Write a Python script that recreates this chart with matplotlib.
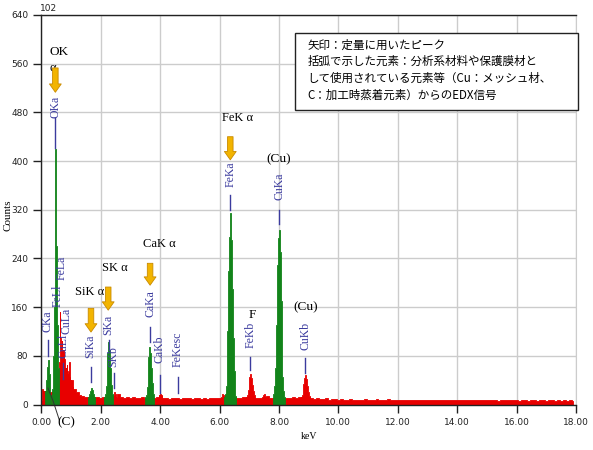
import numpy as np
import matplotlib
matplotlib.use("Agg")
import matplotlib.pyplot as plt
from matplotlib.patches import Rectangle

# ---- spectrum data (counts) ----
# coarse background, 0.1 keV channels from 0.0 keV
bg_step = 0.1
bg_counts = [
    5, 22, 18, 20, 15, 18, 30, 90, 60, 45,
    40, 25, 20, 16, 14, 12, 12, 11, 13, 12,
    11, 12, 12, 12, 13, 12, 18, 12, 11, 12,
    11, 12, 10, 11, 12, 11, 10, 11, 10, 12,
    16, 11, 10, 9, 10, 11, 10, 9, 10, 11,
    10, 9, 10, 11, 9, 10, 9, 10, 11, 10,
    11, 10, 12, 12, 14, 12, 11, 11, 12, 13,
    13, 12, 11, 10, 11, 13, 14, 11, 10, 11,
    12, 11, 10, 10, 11, 12, 11, 12, 13, 14,
    12, 10, 9, 10, 9, 9, 10, 8, 9, 9,
    8, 9, 8, 8, 9, 8, 7, 8, 8, 9,
    8, 7, 8, 9, 7, 8, 8, 9, 8, 7,
    8, 7, 8, 7, 7, 8, 7, 8, 7, 8,
    7, 8, 7, 7, 8, 7, 7, 8, 7, 7,
    7, 7, 8, 7, 7, 7, 8, 7, 7, 7,
    7, 8, 7, 7, 6, 7, 7, 8, 7, 7,
    7, 6, 7, 7, 6, 7, 7, 6, 7, 7,
    6, 7, 7, 6, 7, 6, 7, 6, 7, 6,
]

# low-energy region, 0.02 keV channels
low_step = 0.02
low_start = 0.00
low_counts = [0, 10, 25, 20, 22, 18, 15, 20, 18, 22,
              20, 18, 20, 22, 18, 15, 14, 16, 18, 20,
              22, 25, 28, 30, 35, 40, 45, 50, 40, 35,
              70, 152, 110, 100, 95, 105, 90, 85, 80, 75,
              70, 60, 55, 65, 50, 45, 55, 70, 45, 40,
              35, 30, 28, 25, 22, 20, 22, 18, 17, 16,
              15, 16, 14, 13, 14, 12, 13, 12, 12]

# peak blocks, 0.03 keV channels: (start keV, counts)
pk_step = 0.03
skb_start, skb_counts = 2.40, [12, 16, 20, 18, 13]
cakb_start, cakb_counts = 3.95, [12, 16, 18, 14, 11]
feka_base_start, feka_base_counts = 6.05, [12, 15, 18, 16, 14, 16, 18, 20, 18, 15, 13, 14, 16, 15, 13]
fekb_start, fekb_counts = 6.90, [12, 16, 24, 35, 46, 50, 44, 32, 22, 15, 12]
bump_start, bump_counts = 7.44, [12, 15, 17, 14, 12]
cukb_start, cukb_counts = 8.75, [12, 15, 22, 34, 44, 48, 42, 30, 20, 14, 11]

cka_start, cka_counts = 0.11, [14, 22, 40, 62, 73, 50, 25, 15]
oka_start, oka_counts = 0.36, [25, 40, 80, 160, 420, 260, 130, 60, 35]
sika_start, sika_counts = 1.57, [11, 13, 17, 22, 27, 24, 18, 13, 11]
ska_start, ska_counts = 2.12, [12, 18, 30, 55, 85, 103, 90, 60, 32, 18, 12]
caka_start, caka_counts = 3.50, [12, 16, 28, 50, 78, 94, 85, 60, 35, 18, 12]
feka_start, feka_counts = 6.16, [12, 18, 30, 60, 120, 220, 275, 315, 270, 190, 110, 55, 25, 14]
cuka_start, cuka_counts = 7.80, [12, 18, 30, 60, 130, 230, 273, 287, 250, 170, 95, 45, 22, 13]

# peak labels: name, keV, text bottom, line top, line bottom
peak_labels = [
    ("CKa", 0.21, 119, 106, 80),
    ("OKa", 0.47, 471, 471, 421),
    ("FeLa", 0.69, 205, None, None),
    ("FeLl", 0.53, 160, None, None),
    ("CuLa", 0.86, 116, None, None),
    ("CuLl", 0.73, 76, 68, 42),
    ("SiKa", 1.66, 76, 62, 37),
    ("SKa", 2.26, 114, 106, 90),
    ("SKb", 2.43, 62, 52, 27),
    ("CaKa", 3.66, 144, 127, 103),
    ("CaKb", 3.98, 68, 48, 19),
    ("FeKesc", 4.60, 62, 45, 19),
    ("FeKa", 6.36, 357, 344, 320),
    ("FeKb", 7.04, 93, 78, 57),
    ("CuKa", 8.01, 336, 320, 297),
    ("CuKb", 8.89, 90, 76, 52),
]

# quantified lines: label, text keV, text counts, arrow keV, arrow top, arrow tip
arrow_labels = [
    ("SiK α", 1.62, 185, 1.67, 158, 119),
    ("SK α", 2.47, 224, 2.25, 193, 155),
    ("CaK α", 3.97, 264, 3.66, 232, 196),
    ("FeK α", 6.60, 471, 6.36, 440, 402),
]

note_lines = [
    "矢印：定量に用いたピーク",
    "括弧で示した元素：分析系材料や保護膜材と",
    "して使用されている元素等（Cu：メッシュ材、",
    "C：加工時蒸着元素）からのEDX信号",
]

x_ticks = [0, 2, 4, 6, 8, 10, 12, 14, 16, 18]
y_ticks = [0, 80, 160, 240, 320, 400, 480, 560, 640]

RED = "#e80000"
GREEN = "#12841a"
BLUE = "#3b3b9e"
GOLD = "#f2b400"
SERIF = "Liberation Serif"


def channels(start, step, counts):
    e = start + step * np.arange(len(counts))
    return e, np.array(counts, dtype=float)


fig = plt.figure(figsize=(5.93, 4.5), dpi=100)
ax = fig.add_axes([0.0698, 0.1011, 0.9015, 0.8656])

e, c = channels(0.0, bg_step, bg_counts)
ax.fill_between(e, c, step="mid", color=RED, lw=0.6, edgecolor=RED)
e, c = channels(low_start, low_step, low_counts)
ax.fill_between(e, c, step="mid", color=RED, lw=0.6, edgecolor=RED)

red_blocks = [(skb_start, skb_counts), (cakb_start, cakb_counts),
              (feka_base_start, feka_base_counts), (fekb_start, fekb_counts),
              (bump_start, bump_counts), (cukb_start, cukb_counts)]
for s, cnt in red_blocks:
    e, c = channels(s, pk_step, cnt)
    ax.fill_between(e, c, step="mid", color=RED, lw=0.6, edgecolor=RED)

green_blocks = [(cka_start, cka_counts), (oka_start, oka_counts), (sika_start, sika_counts),
                (ska_start, ska_counts), (caka_start, caka_counts), (feka_start, feka_counts),
                (cuka_start, cuka_counts)]
for s, cnt in green_blocks:
    e, c = channels(s, pk_step, cnt)
    ax.fill_between(e, c, step="mid", color=GREEN, lw=0.6, edgecolor=GREEN)

# peak id labels
for name, x, yt, l0, l1 in peak_labels:
    ax.text(x, yt, name, rotation=90, ha="center", va="bottom", color=BLUE,
            fontsize=8.5, family=SERIF)
    if l0 is not None:
        ax.plot([x, x], [l1, l0], color=BLUE, lw=1)

# arrows for quantified peaks
def gold_arrow(x, y0, y1):
    ax.annotate("", xy=(x, y1), xytext=(x, y0),
                arrowprops=dict(arrowstyle="simple,head_width=0.85,head_length=0.6,tail_width=0.4",
                                mutation_scale=10, fc=GOLD, ec="#c98a00", lw=0.6,
                                shrinkA=0, shrinkB=0))

for name, tx, ty, ax_x, a0, a1 in arrow_labels:
    ax.text(tx, ty, name, ha="center", va="center", fontsize=9, family=SERIF)
    gold_arrow(ax_x, a0, a1)

ax.text(0.26, 579, "OK", ha="left", va="center", fontsize=9.5, family=SERIF)
ax.text(0.39, 553, "α", ha="center", va="center", fontsize=9, family=SERIF)
gold_arrow(0.47, 553, 513)

ax.text(8.0, 403, "(Cu)", ha="center", va="center", fontsize=9.5, family=SERIF)
ax.text(8.89, 159, "(Cu)", ha="center", va="center", fontsize=9.5, family=SERIF)
ax.text(7.10, 147, "F", ha="center", va="center", fontsize=9.5, family=SERIF)
ax.text(0.83, -30, "(C)", ha="center", va="center", fontsize=9.5, family=SERIF, clip_on=False)
ax.plot([0.22, 0.40, 0.60], [27, 5, -25], color="#333333", lw=0.7, clip_on=False)

# axes styling
ax.set_xlim(0, 18)
ax.set_ylim(0, 640)
ax.set_xticks(x_ticks)
ax.set_xticklabels([f"{v:.2f}" for v in x_ticks])
ax.set_yticks(y_ticks)
ax.grid(True, color="#cccccc", lw=1)
ax.set_axisbelow(True)
ax.tick_params(direction="out", length=6, width=1, labelsize=6.5, colors="#222222")
for side in ["left", "bottom", "top"]:
    ax.spines[side].set_color("#222222")
    ax.spines[side].set_linewidth(1)
ax.spines["right"].set_color("#cccccc")

fig.text(0.0135, 0.522, "Counts", rotation=90, ha="center", va="center", fontsize=8, family=SERIF)
fig.text(0.521, 0.029, "keV", ha="center", va="center", fontsize=7, family=SERIF)
fig.text(0.068, 0.982, "102", ha="left", va="center", fontsize=6.5, color="#222222")

# note box
fig.patches.append(Rectangle((0.497, 0.756), 0.478, 0.171, transform=fig.transFigure,
                             fc="white", ec="#222222", lw=1, zorder=5))
for i, line in enumerate(note_lines):
    fig.text(0.518, 0.9 - i * 0.037, line, ha="left", va="center", fontsize=8.3,
             family=["Noto Sans CJK JP", "DejaVu Sans"], zorder=6)

fig.savefig("out.png", dpi=100)
